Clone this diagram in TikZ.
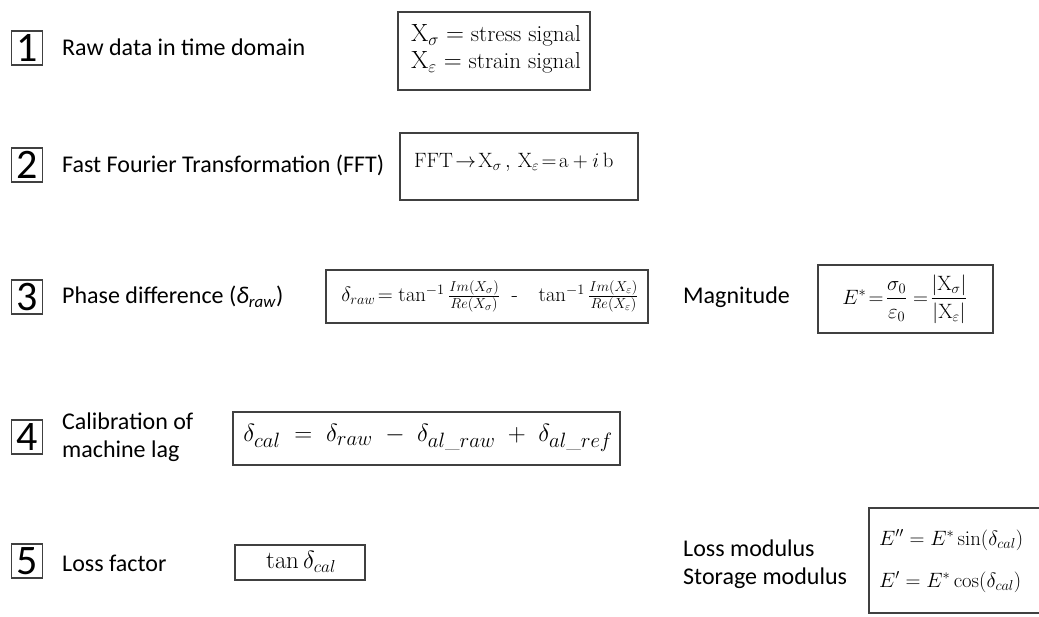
\documentclass[tikz,border=0pt]{standalone}
\usepackage{amsmath}
\usepackage[no-math]{fontspec}
\newfontfamily\labfont{Carlito}
\definecolor{boxgray}{HTML}{404040}
\tikzset{
  numbox/.style={draw=boxgray, line width=1.2pt, minimum width=31pt, minimum height=34pt,
    inner sep=0pt, font=\labfont\fontsize{42}{42}\selectfont},
  steptext/.style={anchor=west, inner sep=0pt, align=left,
    font=\labfont\fontsize{24}{28}\selectfont},
  eqbox/.style={draw=boxgray, line width=1.2pt, inner sep=0pt},
  eqtext/.style={inner sep=0pt, font=\fontsize{21}{26}\selectfont},
}
\begin{document}
\begin{tikzpicture}[x=1pt, y=-1pt]
\path[use as bounding box, fill=white] (0,0) rectangle (1039,616);
\clip (0,0) rectangle (1039,616);

% step numbers
\node[numbox] (n1) at (27,48)  {1};
\node[numbox] (n2) at (27,165) {2};
\node[numbox] (n3) at (27,297) {3};
\node[numbox] (n4) at (27,437) {4};
\node[numbox] (n5) at (27,561) {5};

% step descriptions
\node[steptext] (t1) at (62,47)  {Raw data in time domain};
\node[steptext] (t2) at (62,165) {Fast Fourier Transformation (FFT)};
\node[steptext] (t3) at (62,297) {Phase difference (\textit{δ}\textsubscript{\textit{raw}})};
\node[steptext] (t4) at (62,437) {Calibration of\\machine lag};
\node[steptext] (t5) at (62,563) {Loss factor};
\node[steptext] (t3b) at (683,297) {Magnitude};
\node[steptext] (t6) at (683,564) {Loss modulus\\Storage modulus};

% 1: raw signals
\node[eqbox, minimum width=192pt, minimum height=78pt] (b1) at (494,51) {};
\node[eqtext, anchor=west, align=left, font=\fontsize{23}{27}\selectfont] (e1) at (411,49)
  {$\mathrm{X}_{\sigma} = \text{stress signal}$\\
   $\mathrm{X}_{\varepsilon} = \text{strain signal}$};

% 2: FFT
\node[eqbox, minimum width=238pt, minimum height=67pt] (b2) at (519,166.5) {};
\node[eqtext, anchor=west] (e2) at (414,162)
  {$\mathrm{FFT}\!\rightarrow\! \mathrm{X}_{\sigma}\,,\, \mathrm{X}_{\varepsilon}\!=\!\mathrm{a} + i\,\mathrm{b}$};

% 3: phase difference and magnitude
\node[eqbox, minimum width=322pt, minimum height=53pt] (b3) at (487,296.5) {};
\node[eqtext] (e3) at (490,296.5)
  {$\delta_{raw}\!=\tan^{-1}\tfrac{Im(X_{\sigma})}{Re(X_{\sigma})}\;\;\text{-}\;\;\;\tan^{-1}\tfrac{Im(X_{\varepsilon})}{Re(X_{\varepsilon})}$};

\node[eqbox, minimum width=175pt, minimum height=68pt] (b3b) at (905.5,299) {};
\node[eqtext, font=\fontsize{22}{26}\selectfont] (e3b) at (905,299)
  {$E^{*}\!=\!\dfrac{\sigma_0}{\varepsilon_0}=\!\dfrac{|\mathrm{X}_{\sigma}|}{|\mathrm{X}_{\varepsilon}|}$};

% 4: calibration
\node[eqbox, minimum width=387pt, minimum height=53pt] (b4) at (426.5,438.5) {};
\node[eqtext, font=\fontsize{30}{34}\selectfont] (e4) at (428,438)
  {$\delta_{cal} \;=\; \delta_{raw} \;-\; \delta_{al\_raw} \;+\; \delta_{al\_ref}$};

% 5: loss factor and moduli
\node[eqbox, minimum width=130pt, minimum height=35pt] (b5) at (300,562.5) {};
\node[eqtext, font=\fontsize{26}{30}\selectfont] (e5) at (301,562) {$\tan\delta_{cal}$};

\node[eqbox, minimum width=190pt, minimum height=105pt] (b6) at (964,560.5) {};
\node[eqtext, anchor=west, align=left, font=\fontsize{21.5}{26}\selectfont] (e6) at (879,561)
  {$E'' = E^{*}\sin(\delta_{cal})$\\[16pt]
   $E' = E^{*}\cos(\delta_{cal})$};
\end{tikzpicture}
\end{document}
